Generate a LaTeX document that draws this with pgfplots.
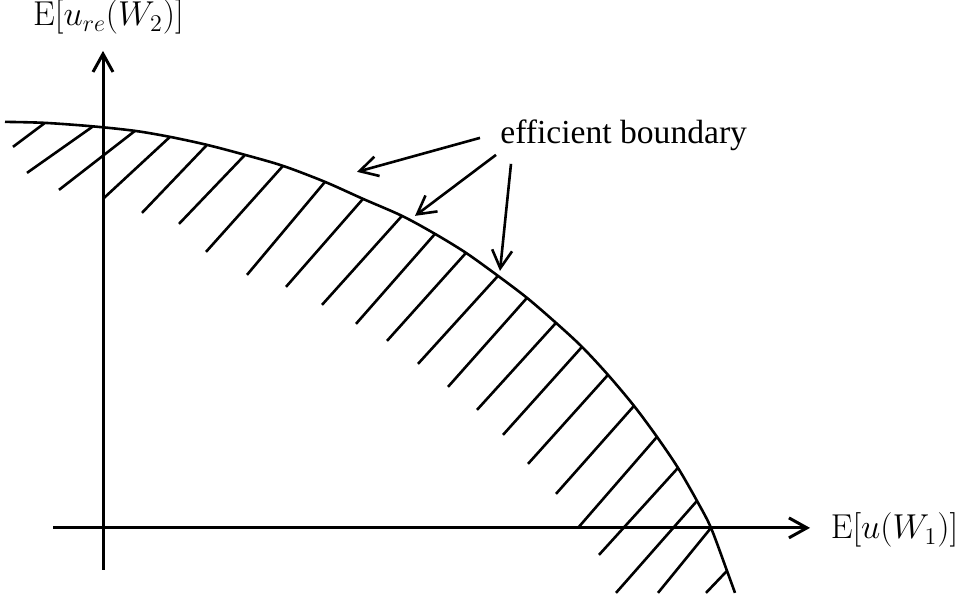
\documentclass[border=0pt]{standalone}
\usepackage[no-math]{fontspec}
\setmainfont{Liberation Serif}
\usepackage{pgfplots}
\pgfplotsset{compat=1.18}
\usetikzlibrary{arrows.meta}
\begin{document}
\begin{tikzpicture}
\begin{axis}[
  x=0.5pt, y=0.5pt,
  xmin=-50, xmax=707, ymin=-42, ymax=477,
  axis lines=middle,
  axis line style={line width=1.5pt, -{Straight Barb[length=9pt,width=10pt]}},
  xtick=\empty, ytick=\empty,
  clip=false,
  hatch/.style={line width=1.3pt, black, no markers},
]
% canvas
\addplot[draw=none, no markers] coordinates {(-103,-65) (857,527)};
% efficient boundary
\addplot[smooth, line width=1.3pt, black, no markers] coordinates {
(-98,406) (-58,405) (-10,401.5) (32,397) (67,391) (104,383) (142,373)
(180,362) (222,346) (260,329) (299,312) (332,294) (363,275) (395,252)
(424,230) (453,205) (479,181) (505,153) (531,122) (554,91) (575,60)
(594,27) (608,0) (624,-43) (632,-65)};
% hatching
\addplot[hatch] coordinates {(-58,405) (-90,381)};
\addplot[hatch] coordinates {(-10,401.5) (-76,355)};
\addplot[hatch] coordinates {(32,397) (-44,338)};
\addplot[hatch] coordinates {(67,391) (0,329)};
\addplot[hatch] coordinates {(104,383) (39,315)};
\addplot[hatch] coordinates {(142,373) (76,304)};
\addplot[hatch] coordinates {(180,362) (103,276)};
\addplot[hatch] coordinates {(222,346) (144,253)};
\addplot[hatch] coordinates {(260,329) (183,241)};
\addplot[hatch] coordinates {(299,312) (219,223)};
\addplot[hatch] coordinates {(332,294) (253,204)};
\addplot[hatch] coordinates {(363,275) (284,187)};
\addplot[hatch] coordinates {(395,252) (315,164)};
\addplot[hatch] coordinates {(424,230) (345,141)};
\addplot[hatch] coordinates {(453,205) (374,118)};
\addplot[hatch] coordinates {(479,181) (400,93)};
\addplot[hatch] coordinates {(505,153) (425,64)};
\addplot[hatch] coordinates {(531,122) (453,34)};
\addplot[hatch] coordinates {(554,91) (475,0)};
\addplot[hatch] coordinates {(575,60) (496,-27)};
\addplot[hatch] coordinates {(594,27) (513,-65)};
\addplot[hatch] coordinates {(608,0) (555,-65)};
\addplot[hatch] coordinates {(624,-43) (603,-65)};
% pointer arrows
\addplot[line width=1.3pt, black, no markers, -{Straight Barb[length=9pt,width=10pt]}] coordinates {(377,390) (254,356)};
\addplot[line width=1.3pt, black, no markers, -{Straight Barb[length=9pt,width=10pt]}] coordinates {(393,373) (312,312)};
\addplot[line width=1.3pt, black, no markers, -{Straight Barb[length=9pt,width=10pt]}] coordinates {(408,364) (397,257)};
% labels
\node[anchor=base west, inner sep=0pt, font=\fontsize{16.8}{20}\selectfont] at (axis cs:397,384) {efficient boundary};
\node[anchor=base, inner sep=0pt, font=\fontsize{16.5}{20}\selectfont] at (axis cs:5.5,502) {$\mathrm{E}[u_{re}(W_2)]$};
\node[anchor=base, inner sep=0pt, font=\fontsize{16.5}{20}\selectfont] at (axis cs:791.5,-11) {$\mathrm{E}[u(W_1)]$};
\end{axis}
\end{tikzpicture}
\end{document}
